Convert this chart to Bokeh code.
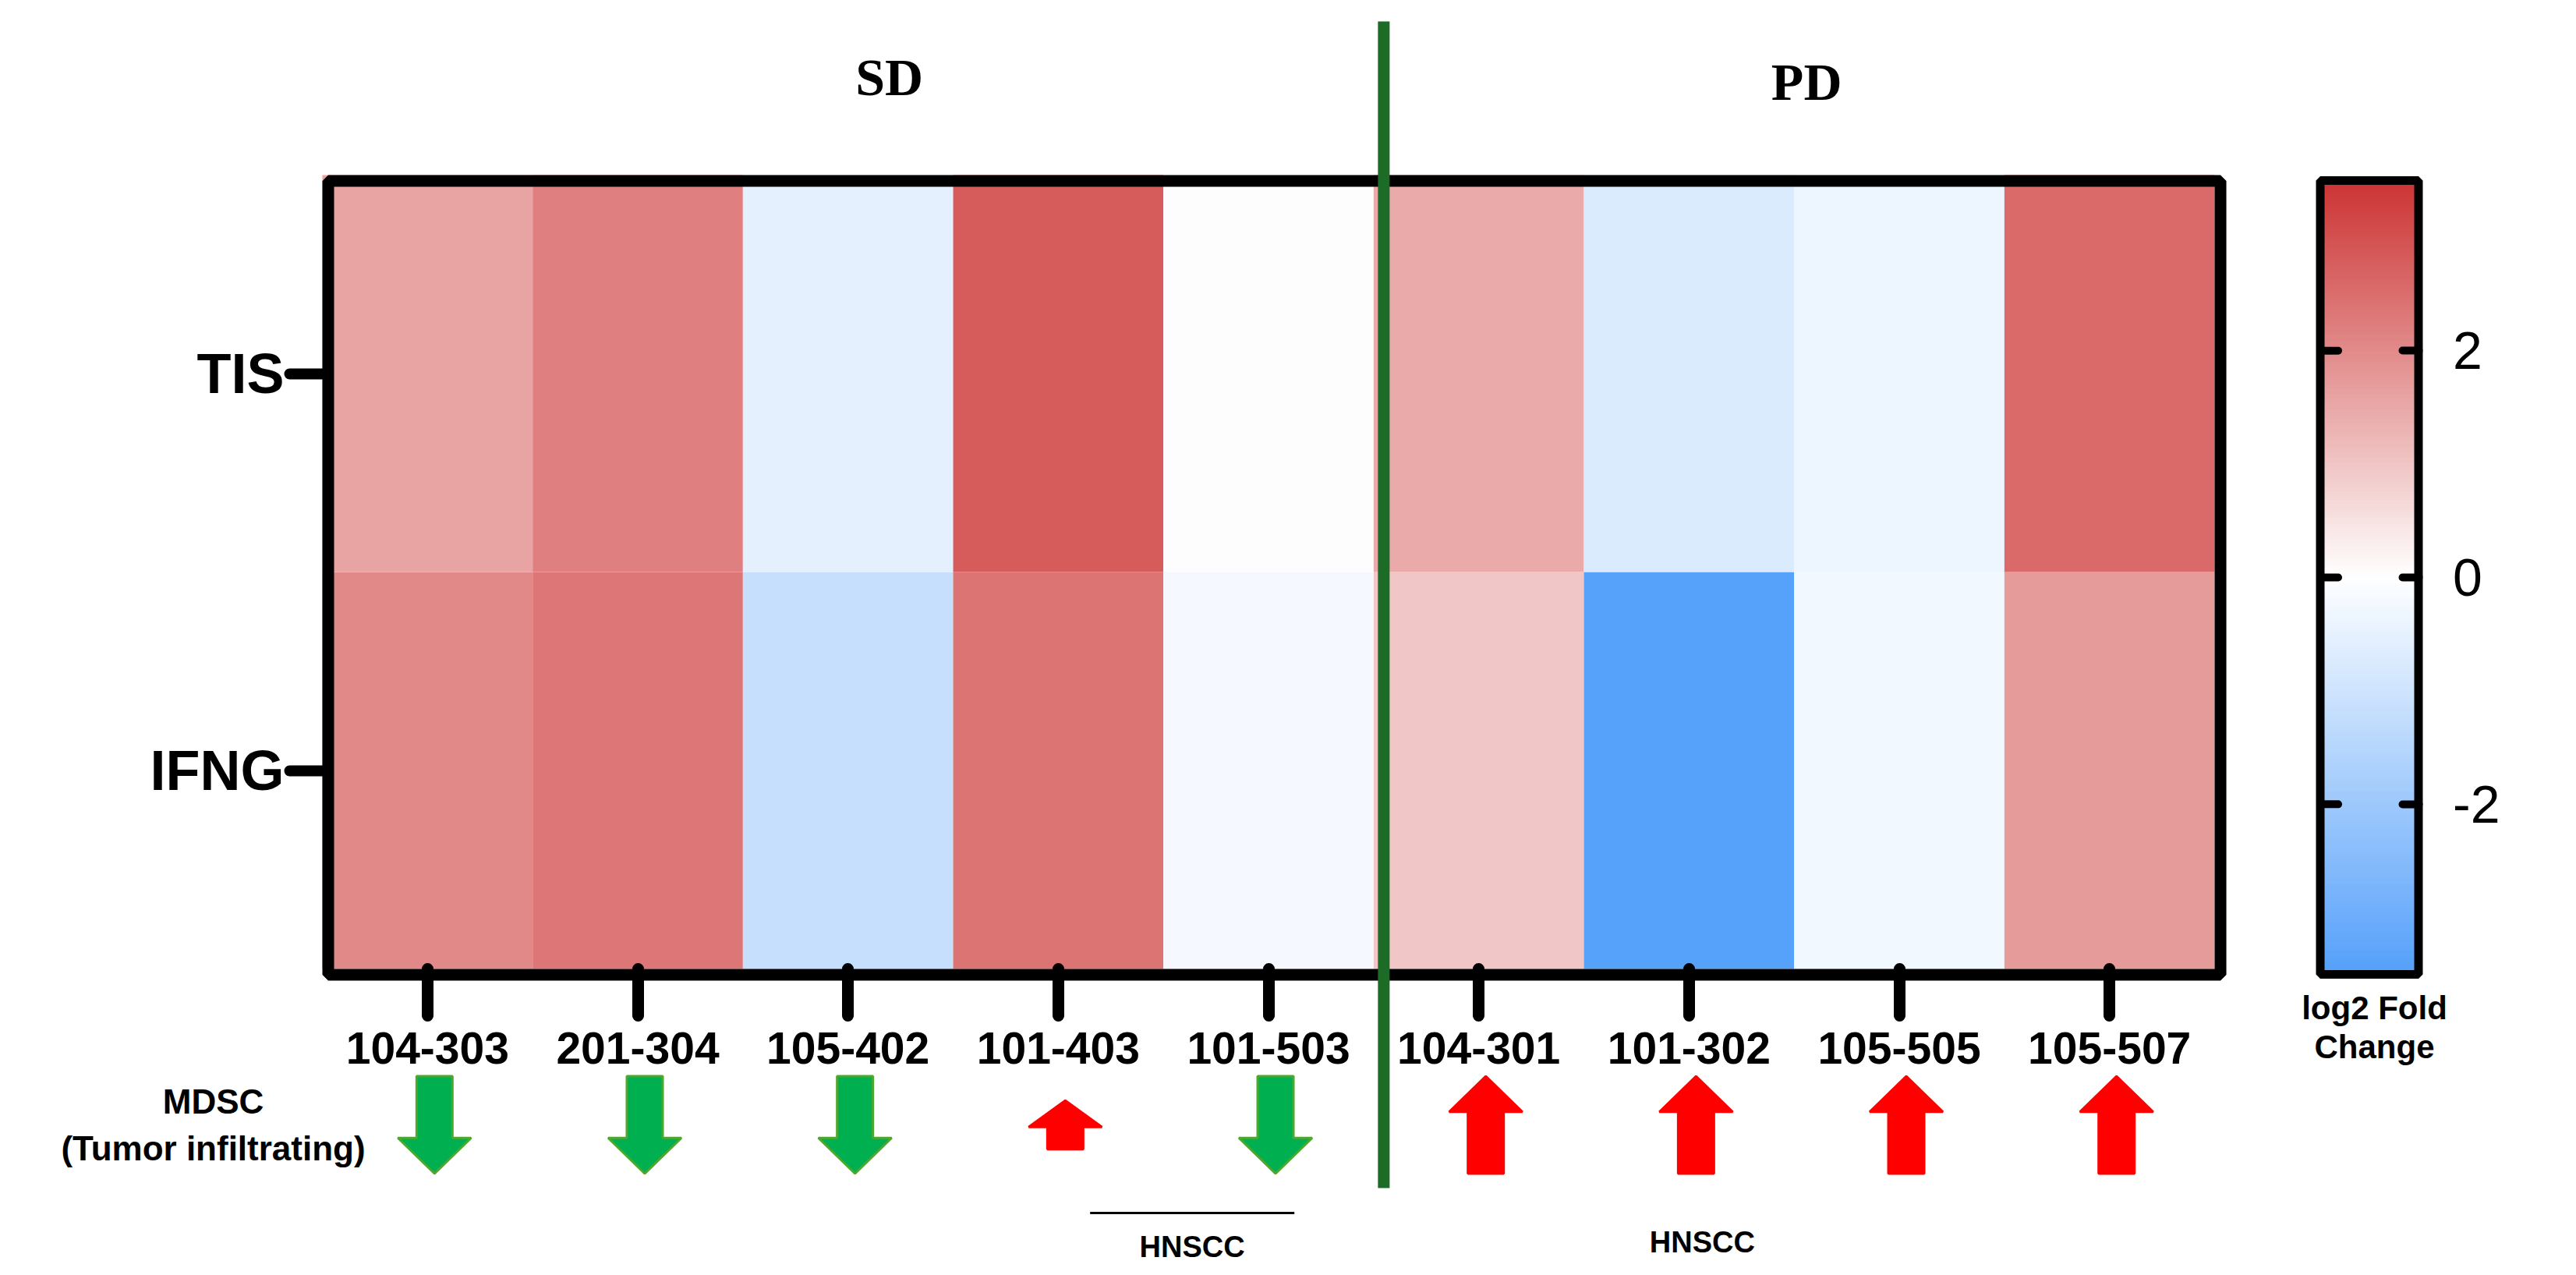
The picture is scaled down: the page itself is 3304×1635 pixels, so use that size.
from bokeh.plotting import figure
from bokeh.models import Range1d, FixedTicker, LinearColorMapper, ColorBar, ColumnDataSource
from bokeh.core.properties import value
from bokeh.embed import file_html
from bokeh.resources import INLINE

# ---------------- data ----------------
samples = ["104-303", "201-304", "105-402", "101-403", "101-503",
           "104-301", "101-302", "105-505", "105-507"]
response = ["SD", "SD", "SD", "SD", "SD", "PD", "PD", "PD", "PD"]
genes = ["IFNG", "TIS"]  # bottom to top
tis_log2fc = [1.57, 2.19, -0.55, 2.81, 0.03, 1.47, -0.76, -0.37, 2.55]
ifng_log2fc = [2.03, 2.33, -1.19, 2.38, -0.20, 0.98, -3.45, -0.27, 1.71]
mdsc_direction = [-1, -1, -1, 1, -1, 1, 1, 1, 1]      # -1 down, +1 up
mdsc_magnitude = [1, 1, 1, 0.5, 1, 1, 1, 1, 1]          # relative arrow size
hnscc_groups = [["101-403", "101-503"], ["101-302"]]
hnscc_bracket = [True, False]
cbar_ticks = [-2, 0, 2]
cbar_tick_labels = ["-2", "0", "2"]
cbar_low, cbar_high = -3.5, 3.5

# ---------------- geometry (px per data unit) ----------------
W, H = 3288, 1619
XU = 269.67
YU = 509.0
x0_px, y0_px = 413.0, 1242.0   # canvas px of data (0, 0)

def dx(px):
    return px / XU

def dy(px):
    return px / YU

# palette blue -> white -> red
blue = (85, 160, 250)
red = (204, 52, 52)
palette = []
n = 256
for i in range(n):
    t = i / (n - 1) * 2 - 1
    if t < 0:
        c = tuple(round(255 + (b - 255) * (-t)) for b in blue)
    else:
        c = tuple(round(255 + (r - 255) * t) for r in red)
    palette.append("#%02x%02x%02x" % c)
mapper = LinearColorMapper(palette=palette, low=cbar_low, high=cbar_high)

p = figure(width=W, height=H,
           x_range=Range1d(-x0_px / XU, (W - x0_px) / XU),
           y_range=Range1d(-(H - y0_px) / YU, y0_px / YU),
           min_border=0, outline_line_color=None, toolbar_location=None,
           output_backend="svg", background_fill_color="white")
p.xgrid.visible = False
p.ygrid.visible = False

# ---------------- heatmap cells ----------------
cx, cy, vals = [], [], []
for gi, row in enumerate([ifng_log2fc, tis_log2fc]):
    for si, v in enumerate(row):
        cx.append(si + 0.5)
        cy.append(gi + 0.5)
        vals.append(v)
src = ColumnDataSource(dict(x=cx, y=cy, v=vals))
p.rect(x="x", y="y", width=1, height=1, source=src,
       fill_color={"field": "v", "transform": mapper}, line_color=None)

# heavy frame (drawn slightly inset, as in the original)
p.rect(x=len(samples) / 2 + dx(7.5), y=len(genes) / 2 - dy(7.5),
       width=len(samples), height=len(genes),
       fill_color=None, line_color="black", line_width=15)

# ---------------- axes ----------------
xt = [i + 0.5 for i in range(len(samples))]
p.xaxis.ticker = FixedTicker(ticks=xt)
p.xaxis.major_label_overrides = {t: s for t, s in zip(xt, samples)}
p.xaxis.fixed_location = 0
p.xaxis.axis_line_color = None
p.xaxis.major_tick_out = 60
p.xaxis.major_tick_in = 0
p.xaxis.major_tick_line_width = 15
p.xaxis.major_tick_line_cap = "round"
p.xaxis.minor_tick_line_color = None
p.xaxis.major_label_standoff = 21
p.xaxis.major_label_text_font = "Liberation Sans"
p.xaxis.major_label_text_font_style = "bold"
p.xaxis.major_label_text_font_size = "57px"
p.xaxis.major_label_text_color = "black"

yt = [i + 0.5 for i in range(len(genes))]
p.yaxis.ticker = FixedTicker(ticks=yt)
p.yaxis.major_label_overrides = {t: g for t, g in zip(yt, genes)}
p.yaxis.fixed_location = 0
p.yaxis.axis_line_color = None
p.yaxis.major_tick_out = 42
p.yaxis.major_tick_in = 0
p.yaxis.major_tick_line_width = 14
p.yaxis.major_tick_line_cap = "round"
p.yaxis.minor_tick_line_color = None
p.yaxis.major_label_standoff = 7
p.yaxis.major_label_text_font = "Liberation Sans"
p.yaxis.major_label_text_font_style = "bold"
p.yaxis.major_label_text_font_size = "72px"
p.yaxis.major_label_text_color = "black"

# ---------------- group separator & labels ----------------
n_sd = response.count("SD")
p.segment(x0=n_sd + dx(13), y0=-dy(281), x1=n_sd + dx(13), y1=2 + dy(197),
          line_color="#1C6B26", line_width=15)
groups = ["SD", "PD"]
gx = []
for g in groups:
    idx = [i for i, r in enumerate(response) if r == g]
    gx.append(sum(idx) / len(idx) + 0.5)
p.text(x=[gx[0] + dx(53), gx[1] + dx(16)], y=[2 + dy(126), 2 + dy(120)], text=groups,
       text_font=value("Liberation Serif"), text_font_style="bold",
       text_font_size="68px", text_align="center", text_baseline="middle", text_color="black")

# ---------------- MDSC arrows ----------------
arrow_cy = -dy(200)
xs, ys, fills, lines = [], [], [], []
for i, (d, m) in enumerate(zip(mdsc_direction, mdsc_magnitude)):
    c = i + 0.5 + dx(9)
    L = dy(125 * m)
    hl = dy(22 + 0.19 * 125 * m)
    hw = dx(94) / 2
    sw = dx(46) / 2
    tail = arrow_cy - d * L / 2
    tip = arrow_cy + d * L / 2
    base = tip - d * hl
    xs.append([c - sw, c + sw, c + sw, c + hw, c, c - hw, c - sw])
    ys.append([tail, tail, base, base, tip, base, base])
    fills.append("#00B050" if d < 0 else "#FF0000")
    lines.append("#4EA72E" if d < 0 else "#FF0000")
p.patches(xs=xs, ys=ys, fill_color=fills, line_color=lines, line_width=3)

p.text(x=[-dx(140), -dx(140)], y=[-dy(170), -dy(230)],
       text=["MDSC", "(Tumor infiltrating)"],
       text_font=value("Liberation Sans"), text_font_style="bold",
       text_font_size="44px", text_align="center", text_baseline="middle", text_color="black")

# ---------------- HNSCC annotations ----------------
label_offsets = [dx(37), dx(17)]
for grp, br, off in zip(hnscc_groups, hnscc_bracket, label_offsets):
    idx = [samples.index(s) for s in grp]
    mid = sum(idx) / len(idx) + 0.5 + off
    if br:
        p.segment(x0=mid - dx(131), y0=-dy(313), x1=mid + dx(131), y1=-dy(313),
                  line_color="black", line_width=3)
        ty = -dy(356)
    else:
        ty = -dy(350)
    p.text(x=[mid], y=[ty], text=["HNSCC"],
           text_font=value("Liberation Sans"), text_font_style="bold",
           text_font_size="38px", text_align="center", text_baseline="middle", text_color="black")

# ---------------- colour bar ----------------
cb_left, cb_bottom, cb_w, cb_h = 2975.5, 1249.0, 126, 1018   # canvas px
cb = ColorBar(color_mapper=mapper, orientation="vertical", width=cb_w, height=cb_h,
              location=(cb_left, H - cb_bottom), padding=0, margin=0,
              ticker=FixedTicker(ticks=cbar_ticks),
              major_label_overrides={float(t): s for t, s in zip(cbar_ticks, cbar_tick_labels)},
              bar_line_color="black", bar_line_width=11,
              major_tick_in=21, major_tick_out=0, major_tick_line_color="black",
              major_tick_line_width=10, major_tick_line_cap="round",
              minor_tick_line_color=None,
              label_standoff=44,
              major_label_text_font="Liberation Sans",
              major_label_text_font_size="68px",
              major_label_text_color="black",
              border_line_color=None, background_fill_color=None)
p.add_layout(cb, "center")

# inner ticks on the left side of the colour bar
ly = [(y0_px - (cb_bottom - (t - cbar_low) / (cbar_high - cbar_low) * cb_h)) / YU
      for t in cbar_ticks]
lx0 = dx(cb_left - x0_px)
p.segment(x0=[lx0] * len(ly), y0=ly, x1=[lx0 + dx(23)] * len(ly), y1=ly,
          line_color="black", line_width=10, line_cap="round", level="overlay")

p.text(x=[dx(3053 - 421)] * 2, y=[-dy(50), -dy(100)], text=["log2 Fold", "Change"],
       text_font=value("Liberation Sans"), text_font_style="bold",
       text_font_size="42px", text_align="center", text_baseline="middle", text_color="black")

open("out.html", "w").write(file_html(p, INLINE))
